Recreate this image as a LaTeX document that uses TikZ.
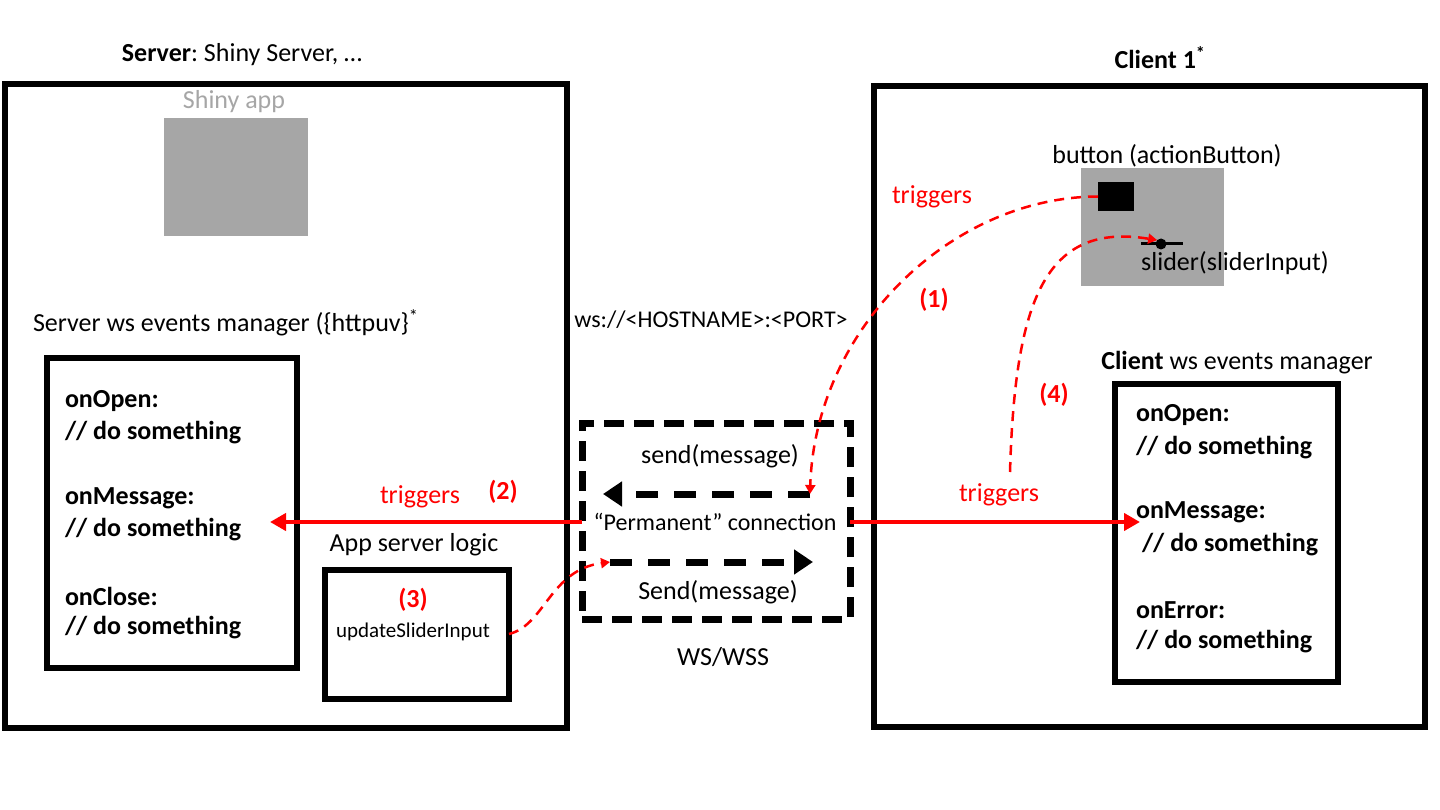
\documentclass[tikz,border=0pt]{standalone}
\usepackage{fontspec}
\setmainfont{Carlito}
\usepackage{tikz}
\usetikzlibrary{arrows.meta}
\usetikzlibrary{positioning}

\definecolor{appgray}{RGB}{166,166,166}
\definecolor{trigred}{RGB}{255,0,0}
\frenchspacing

\begin{document}
\begin{tikzpicture}[x=1pt, y=-1pt,
    every node/.style={inner sep=0pt, outer sep=0pt, font=\fontsize{26}{31}\selectfont},
    bigbox/.style={draw=black, line width=6.5pt},
    evbox/.style={draw=black, line width=6pt},
    evtext/.style={anchor=west, font=\fontsize{26}{31}\selectfont\bfseries},
    smalltext/.style={font=\fontsize{24}{29}\selectfont},
    trig/.style={text=trigred},
    stepnum/.style={text=trigred, font=\fontsize{26}{31}\selectfont\bfseries},
    redarrow/.style={draw=trigred, line width=4pt, -{Triangle[length=16pt, width=17pt]}},
    reddash/.style={draw=trigred, line width=2.5pt, dash pattern=on 10pt off 7pt, -{Triangle[length=9pt, width=10pt]}},
    wsarrow/.style={draw=black, line width=7pt, dash pattern=on 22pt off 16pt, -{Triangle[length=19pt, width=24pt]}}]

        \useasboundingbox (0,0) rectangle (1440,810);

        % Server side
        \node[bigbox, minimum width=562, minimum height=644] (server) at (286,406) {};
        \node (servertitle) at (242,55) {\textbf{Server}: Shiny Server, …};
        \node[fill=appgray, minimum width=144, minimum height=118] (shiny) at (236,177) {};
        \node[text=appgray] (shinylbl) at (234,102) {Shiny app};
        \node[anchor=west] (smgr) at (33,323) {Server ws events manager (\{httpuv\}\textsuperscript{*}};

        % Server ws events
        \node[evbox, minimum width=250, minimum height=310] (sevents) at (172,513) {};
        \foreach \name/\y [count=\i] in {onOpen/401, onMessage/498, onClose/596} {
          \node[evtext] (sev\i) at (65,\y) {\name:};
          \node[evtext] (sdo\i) at (65,\y+32) {// do something};
        }

        % App server logic
        \node[evbox, minimum width=184, minimum height=129] (logic) at (417,634) {};
        \node (logiclbl) at (414,545) {App server logic};
        \node[stepnum] (n3) at (413,600) {(3)};
        \node[font=\fontsize{21}{25}\selectfont] (upd) at (413,632) {updateSliderInput};

        % Websocket connection
        \node[draw=black, line width=7pt, dash pattern=on 20pt off 10pt,
          minimum width=268, minimum height=196] (ws) at (716,521) {};
        \node[smalltext] (wsurl) at (711,320) {ws://<HOSTNAME>:<PORT>};
        \node (wsproto) at (723,657) {WS/WSS};
        \node (sendup) at (720,456) {send(message)};
        \node[smalltext] (perm) at (715,522) {“Permanent” connection};
        \node (senddn) at (718,592) {Send(message)};
        \coordinate (upS) at (810,494);
        \coordinate (upE) at (603,494);
        \coordinate (dnS) at (610,562);
        \coordinate (dnE) at (813,562);
        \draw[wsarrow] (upS) -- (upE);
        \draw[wsarrow] (dnS) -- (dnE);

        % Client side
        \node[bigbox, minimum width=551, minimum height=641] (client) at (1149.5,406.5) {};
        \node (clienttitle) at (1160,58) {\textbf{Client 1\textsuperscript{*}}};
        \node[fill=appgray, minimum width=143, minimum height=118] (ui) at (1152.5,227) {};
        \node (btnlbl) at (1167,156) {button (actionButton)};
        \node[fill=black, minimum width=36, minimum height=29] (btn) at (1116,196.5) {};
        \coordinate (slA) at (1141,244);
        \coordinate (slB) at (1183,244);
        \draw[line width=3pt] (slA) -- (slB);
        \node[circle, fill=black, minimum size=11] (sdot) at (1161,244) {};
        \node (sliderlbl) at (1235,263) {slider(sliderInput)};

        % Client ws events
        \node (cmgr) at (1237,363) {\textbf{Client} ws events manager};
        \node[evbox, minimum width=223, minimum height=298] (cevents) at (1226.5,533) {};
        \node[evtext] (cev1) at (1136,415) {onOpen:};
        \node[evtext] (cdo1) at (1136,448) {// do something};
        \node[evtext] (cev2) at (1136,512) {onMessage:};
        \node[evtext] (cdo2) at (1142,545) {// do something};
        \node[evtext] (cev3) at (1136,610) {onError:};
        \node[evtext] (cdo3) at (1136,642) {// do something};

        % Triggers
        \coordinate (msgS) at (270,522);
        \coordinate (msgC) at (1140,522);
        \draw[redarrow] (ws.west |- msgS) -- (msgS);
        \draw[redarrow] (ws.east |- msgC) -- (msgC);
        \node[trig] (trig2) at (420,497) {triggers};
        \node[stepnum] (n2) at (503,492) {(2)};
        \node[trig] (trigC) at (999,495) {triggers};
        \node[trig] (trig1) at (932,197) {triggers};
        \node[stepnum] (n1) at (934,300) {(1)};
        \node[stepnum] (n4) at (1054,395) {(4)};
        \coordinate (c4) at (1010,472);

        \draw[reddash] (btn.west) .. controls (950,197) and (815,330) .. (upS);
        \draw[reddash] (c4) .. controls (1015,300) and (1045,222) .. (sdot.north west);
        \draw[reddash] (logic.east) .. controls (545,625) and (550,570) .. (dnS);

\end{tikzpicture}
\end{document}
